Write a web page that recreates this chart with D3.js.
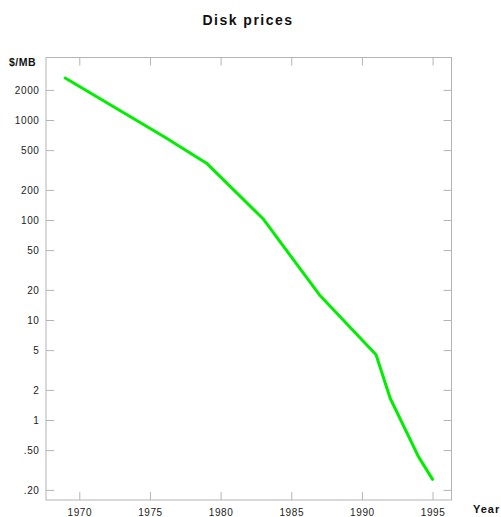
<!DOCTYPE html>
<html><head><meta charset="utf-8">
<script src="https://cdn.jsdelivr.net/npm/d3@7"></script>
<style>
body{margin:0;background:#fff;}
svg{display:block;}
</style></head>
<body>
<svg id="chart" width="501" height="517"></svg>
<script>
const years = [1969, 1976, 1979, 1983, 1987, 1991, 1992, 1994, 1995];
const prices = [2630, 680, 370, 103, 17.8, 4.5, 1.65, 0.43, 0.255];
const xTicks = [1970, 1975, 1980, 1985, 1990, 1995];
const yTicks = [0.2, 0.5, 1, 2, 5, 10, 20, 50, 100, 200, 500, 1000, 2000];
const yTickLabels = [".20", ".50", "1", "2", "5", "10", "20", "50", "100", "200", "500", "1000", "2000"];

const svg = d3.select("#chart");
const L = 46, R = 451.5, T = 57.5, B = 500;
const x = d3.scaleLinear().domain([1967.643, 1996.34]).range([L, R]);
const y = d3.scaleLog().domain([0.1585, 4217]).range([B, T]);

const font = "'Liberation Sans', Arial, Helvetica, sans-serif";
const frame = "#b4b4b4";

svg.append("rect").attr("x", L).attr("y", T).attr("width", R - L).attr("height", B - T)
  .attr("fill", "none").attr("stroke", frame).attr("stroke-width", 1);

function styleAxis(g) {
  g.select(".domain").remove();
  g.selectAll(".tick line").attr("stroke", frame);
  g.selectAll(".tick text").attr("fill", "#222").style("font-family", font)
   .style("font-size", "10px").style("letter-spacing", "0.6px");
}

svg.append("g").attr("transform", `translate(0,${B})`)
  .call(d3.axisBottom(x).tickValues(xTicks).tickFormat(d3.format("d")).tickSizeInner(-8).tickPadding(8.5))
  .call(styleAxis);
svg.append("g").attr("transform", `translate(0,${T})`)
  .call(d3.axisTop(x).tickValues(xTicks).tickFormat("").tickSizeInner(-8))
  .call(styleAxis);
svg.append("g").attr("transform", `translate(${L},0)`)
  .call(d3.axisLeft(y).tickValues(yTicks).tickFormat((d, i) => yTickLabels[i]).tickSizeInner(-8).tickPadding(6.5))
  .call(styleAxis);
svg.append("g").attr("transform", `translate(${R},0)`)
  .call(d3.axisRight(y).tickValues(yTicks).tickFormat("").tickSizeInner(-8))
  .call(styleAxis);

const line = d3.line().x((d, i) => x(years[i])).y(d => y(d));
svg.append("path").datum(prices).attr("d", line)
  .attr("fill", "none").attr("stroke", "#00ee00").attr("stroke-width", 3)
  .attr("stroke-linejoin", "round").attr("stroke-linecap", "round");

svg.append("text").attr("x", 248).attr("y", 25).attr("text-anchor", "middle")
  .style("font-family", font).style("font-weight", "bold").style("font-size", "14px")
  .style("letter-spacing", "1.5px").attr("fill", "#111").text("Disk prices");
svg.append("text").attr("x", 9).attr("y", 66).style("font-family", font)
  .style("font-weight", "bold").style("font-size", "10.5px").style("letter-spacing", "0.5px")
  .attr("fill", "#111").text("$/MB");
svg.append("text").attr("x", 473).attr("y", 513).style("font-family", font)
  .style("font-weight", "bold").style("font-size", "11px").style("letter-spacing", "1px")
  .attr("fill", "#111").text("Year");
</script>
</body></html>
